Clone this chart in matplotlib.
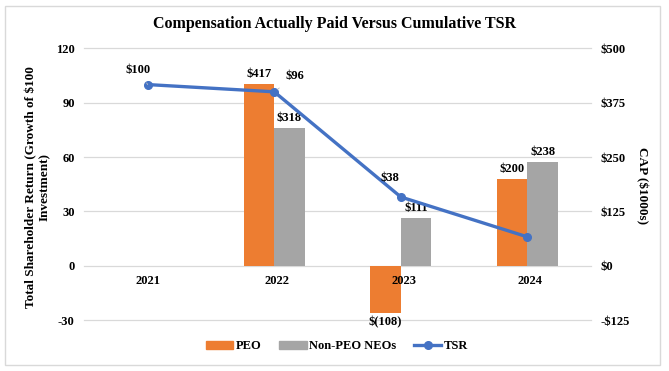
import matplotlib
matplotlib.use("Agg")
import matplotlib.pyplot as plt
from matplotlib.patches import Patch, Rectangle
from matplotlib.lines import Line2D

years = ["2021", "2022", "2023", "2024"]
tsr = [100, 96, 38, 16]
tsr_labels = ["$100", "$96", "$38", ""]
peo = [None, 417, -108, 200]
non_peo = [None, 318, 111, 238]
peo_labels = ["", "$417", "$(108)", "$200"]
non_peo_labels = ["", "$318", "$111", "$238"]
left_ticks = [-30, 0, 30, 60, 90, 120]
right_ticks = [-125, 0, 125, 250, 375, 500]
right_tick_labels = ["-$125", "$0", "$125", "$250", "$375", "$500"]

ORANGE = "#ED7D31"
GRAY = "#A5A5A5"
BLUE = "#4472C4"
FONT = "Liberation Serif"

plt.rcParams["font.family"] = [FONT, "DejaVu Serif"]
plt.rcParams["font.weight"] = "bold"
plt.rcParams["axes.unicode_minus"] = False

W, H = 669, 371
fig = plt.figure(figsize=(W / 100, H / 100), dpi=100)
fig.patch.set_facecolor("white")
fig.add_artist(Rectangle((5 / W, 6 / H), 655 / W, 359 / H, transform=fig.transFigure,
                         fill=False, edgecolor="#D9D9D9", lw=1.0))

pos = [84.4 / W, 50.7 / H, (590.7 - 84.4) / W, (320.3 - 48.3) / H]
ax1 = fig.add_axes(pos)
ax2 = ax1.twinx()
ax1.set_zorder(ax2.get_zorder() + 1)
ax1.patch.set_visible(False)

x = list(range(len(years)))
bw = 0.24
xp = [i - bw / 2 for i, v in zip(x, peo) if v is not None]
vp = [v for v in peo if v is not None]
xn = [i + bw / 2 for i, v in zip(x, non_peo) if v is not None]
vn = [v for v in non_peo if v is not None]
ax2.bar(xp, vp, width=bw, color=ORANGE, zorder=2)
ax2.bar(xn, vn, width=bw, color=GRAY, zorder=2)
ax2.set_ylim(-125, 500)
ax2.set_yticks(right_ticks)
ax2.set_yticklabels(right_tick_labels)
ax2.grid(axis="y", color="#D9D9D9", lw=0.9)
ax2.set_axisbelow(True)
for gl in ax2.get_ygridlines():
    gl.set_clip_on(False)

ax1.plot(x, tsr, color=BLUE, lw=2.4, marker="o", ms=5.5, zorder=5)
ax1.set_ylim(-30, 120)
ax1.set_yticks(left_ticks)
ax1.set_xlim(-0.5, 3.5)
ax1.set_xticks([])

for a in (ax1, ax2):
    for s in a.spines.values():
        s.set_visible(False)
    a.tick_params(axis="y", length=0, labelsize=9, pad=7)
for lbl in ax1.get_yticklabels() + ax2.get_yticklabels():
    lbl.set_fontweight("bold")

# category labels at the zero line
for i, yr in enumerate(years):
    ax1.annotate(yr, (i, 0), xytext=(3 if i else 0, -15), textcoords="offset pixels",
                 ha="center", va="center", fontsize=9, fontweight="bold", zorder=6)

# bar labels
for i, v, t in zip(x, peo, peo_labels):
    if v is None:
        continue
    if v >= 0:
        ax2.annotate(t, (i - bw / 2, v), xytext=(0, 4), textcoords="offset pixels",
                     ha="center", va="bottom", fontsize=9, fontweight="bold")
    else:
        ax2.annotate(t, (i - bw / 2, v), xytext=(0, -3), textcoords="offset pixels",
                     ha="center", va="top", fontsize=9, fontweight="bold")
for i, v, t in zip(x, non_peo, non_peo_labels):
    if v is None:
        continue
    ax2.annotate(t, (i + bw / 2, v), xytext=(0, 4), textcoords="offset pixels",
                 ha="center", va="bottom", fontsize=9, fontweight="bold")

# TSR labels
offsets = [(-10, 15), (21, 16), (-11, 19), (0, 0)]
for i, (v, t, off) in enumerate(zip(tsr, tsr_labels, offsets)):
    if not t:
        continue
    arrow = dict(arrowstyle="-", color="#BFBFBF", lw=0.6, shrinkA=4, shrinkB=3) if i < 2 else None
    ax1.annotate(t, (i, v), xytext=off, textcoords="offset pixels", ha="center", va="center",
                 fontsize=9, fontweight="bold", arrowprops=arrow, zorder=7)

fig.text(0.5, 1 - 24 / H, "Compensation Actually Paid Versus Cumulative TSR",
         ha="center", va="center", fontsize=11.5, fontweight="bold")
fig.text(38 / W, 184 / H, "Total Shareholder Return (Growth of $100\nInvestment)",
         rotation=90, ha="center", va="center", multialignment="center",
         fontsize=9.5, fontweight="bold", linespacing=1.1)
fig.text(642 / W, 185 / H, "CAP ($1000s)", rotation=270, ha="center", va="center",
         fontsize=9.5, fontweight="bold")

handles = [Patch(color=ORANGE, label="PEO"),
           Patch(color=GRAY, label="Non-PEO NEOs"),
           Line2D([], [], color=BLUE, lw=2.4, marker="o", ms=5.5, label="TSR")]
fig.legend(handles=handles, loc="center", bbox_to_anchor=(337 / W, 1 - 346 / H), ncol=3,
           frameon=False, handlelength=2.2, handleheight=0.6,
           columnspacing=1.4, handletextpad=0.2, prop={"weight": "bold", "size": 9})

fig.savefig("out.png", dpi=100)
